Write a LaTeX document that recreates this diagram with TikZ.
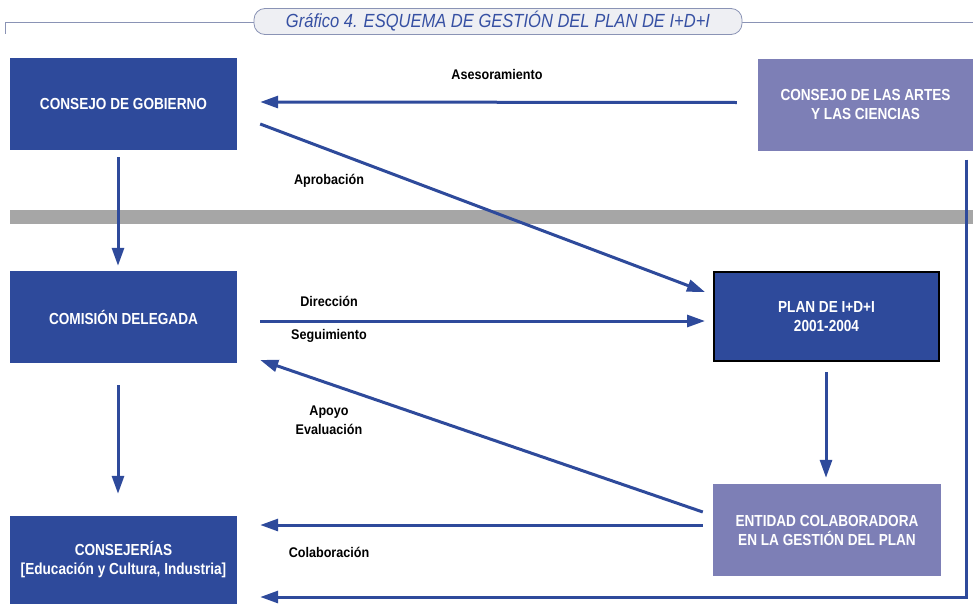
\documentclass[tikz,border=0pt]{standalone}
\usepackage{fontspec}
\setmainfont{Liberation Sans}
\newfontfamily\boxfont[FakeStretch=0.85]{Liberation Sans}
\newfontfamily\lblfont[FakeStretch=0.9]{Liberation Sans}
\newfontfamily\ttlfont[FakeStretch=0.87]{Liberation Sans}
\usetikzlibrary{arrows.meta}
\definecolor{dblue}{HTML}{2E4A9B}
\definecolor{lpurple}{HTML}{7D7FB6}
\definecolor{gbar}{HTML}{A6A6A6}
\definecolor{tline}{HTML}{8A93B5}
\definecolor{tfill}{HTML}{EEEFF3}
\definecolor{ttext}{HTML}{3650A3}
\tikzset{
  darkbox/.style={fill=dblue, text=white, minimum width=227pt, minimum height=92pt, inner sep=0pt, align=center, font=\boxfont\bfseries\fontsize{16}{19}\selectfont},
  lightbox/.style={darkbox, fill=lpurple},
  lbl/.style={text=black, align=center, inner sep=0pt, font=\lblfont\bfseries\fontsize{14}{19}\selectfont},
  conn/.style={draw=dblue, line width=3pt, -{Triangle[length=18pt,width=12pt]}},
}
\begin{document}
\begin{tikzpicture}[x=1pt,y=-1pt]
\useasboundingbox (0,0) rectangle (973,605);
% title
\draw[tline, line width=1pt] (5,22) -- (973,22);
\draw[tline, line width=1pt] (5.5,22) -- (5.5,34);
\node[draw=tline, fill=tfill, rounded corners=11pt, minimum width=488pt, minimum height=26pt, inner sep=0pt, text=ttext, font=\ttlfont\itshape\fontsize{19}{20}\selectfont, line width=0.8pt] (title) at (498,21.5) {Gráfico 4. ESQUEMA DE GESTIÓN DEL PLAN DE I+D+I};
% grey bar
\fill[gbar] (10,210) rectangle (973,224);
% boxes
\node[darkbox] (gob) at (123.5,104) {CONSEJO DE GOBIERNO};
\node[lightbox, minimum width=215pt] (artes) at (865.5,104.5) {CONSEJO DE LAS ARTES\\Y LAS CIENCIAS};
\node[darkbox] (com) at (123.5,317) {COMISIÓN DELEGADA};
\node[darkbox, draw=black, line width=2pt, minimum width=225pt, minimum height=89pt] (plan) at (826.5,316.5) {PLAN DE I+D+I\\2001-2004};
\node[lightbox, minimum width=228pt] (ent) at (827,530) {ENTIDAD COLABORADORA\\EN LA GESTIÓN DEL PLAN};
\node[darkbox, minimum height=88pt] (cons) at (123.5,560) {CONSEJERÍAS\\{[}Educación y Cultura, Industria{]}};
% connectors
\draw[conn] ([yshift=2pt]artes.west) ++(-21,0) -- ([xshift=23pt,yshift=2pt]gob.east);
\draw[conn] ([xshift=23pt,yshift=-20pt]gob.east) -- ([xshift=-8pt,yshift=24.5pt]plan.west);
\draw[conn] ([xshift=-5.5pt,yshift=-7pt]gob.south) -- ([xshift=-5.5pt,yshift=5pt]com.north);
\draw[conn] ([xshift=23pt,yshift=-4pt]com.east) -- ([xshift=-8pt,yshift=-4.5pt]plan.west);
\draw[conn] ([xshift=-10pt,yshift=18pt]ent.west) -- ([xshift=23pt,yshift=-43pt]com.east);
\draw[conn] ([xshift=-5.5pt,yshift=-22pt]com.south) -- ([xshift=-5.5pt,yshift=22pt]cons.north);
\draw[conn] ([xshift=-0.5pt,yshift=-10pt]plan.south) -- ([xshift=-1pt,yshift=6pt]ent.north);
\draw[conn] ([xshift=-10pt,yshift=5pt]ent.west) -- ([xshift=23pt,yshift=35pt]cons.east);
\draw[conn] ([xshift=100.5pt,yshift=-9pt]artes.south) |- ([xshift=23pt,yshift=-37pt]cons.east);
% labels
\node[lbl] (l1) at (497,74) {Asesoramiento};
\node[lbl] (l2) at (329,181) {Aprobación};
\node[lbl] (l3) at (329,301) {Dirección};
\node[lbl] (l4) at (329,336) {Seguimiento};
\node[lbl] (l5) at (329,420.5) {Apoyo\\Evaluación};
\node[lbl] (l6) at (329,552) {Colaboración};
\end{tikzpicture}
\end{document}
